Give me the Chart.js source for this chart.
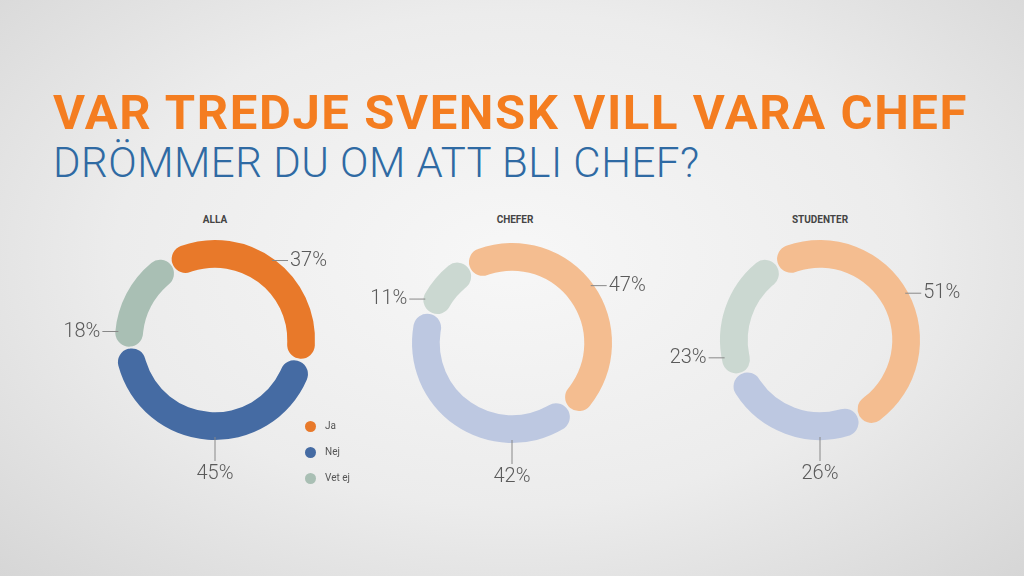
<!DOCTYPE html>
<html><head><meta charset="utf-8">
<script src="https://cdn.jsdelivr.net/npm/chart.js@4"></script>
<style>
html,body{margin:0;width:1024px;height:576px;overflow:hidden;font-family:Roboto,sans-serif}
body{background:radial-gradient(ellipse at 50% 45%,#f7f7f7 0%,#ececec 55%,#d6d6d6 100%)}
#t1{position:absolute;left:53px;top:84px;font-size:49px;font-weight:700;color:#f47d20;letter-spacing:1.6px;white-space:nowrap}
#t2{position:absolute;left:53px;top:138px;font-size:42px;font-weight:300;color:#2f6aa3;letter-spacing:0.5px;white-space:nowrap}
.st{position:absolute;font-size:10px;font-weight:700;color:#444;width:200px;text-align:center;top:214px}
canvas{position:absolute}
.lg{position:absolute;left:305px;font-size:10px;color:#555}
.lg span{display:inline-block;width:11px;height:11px;border-radius:50%;vertical-align:middle;margin-right:9px}
</style></head><body>
<div id="t1">VAR TREDJE SVENSK VILL VARA CHEF</div>
<div id="t2">DRÖMMER DU OM ATT BLI CHEF?</div>
<div class="st" style="left:115px">ALLA</div>
<div class="st" style="left:415px">CHEFER</div>
<div class="st" style="left:720px">STUDENTER</div>
<canvas id="c0" width="320" height="300" style="left:55px;top:190px"></canvas>
<canvas id="c1" width="320" height="300" style="left:352px;top:193px"></canvas>
<canvas id="c2" width="320" height="300" style="left:660px;top:190px"></canvas>
<div class="lg" style="top:420px"><span style="background:#e8792a"></span>Ja</div>
<div class="lg" style="top:446px"><span style="background:#456ba3"></span>Nej</div>
<div class="lg" style="top:472px"><span style="background:#a9bfb4"></span>Vet ej</div>
<script>
const categories=["Ja","Nej","Vet ej"];
const alla=[37,45,18];
const chefer=[47,42,11];
const studenter=[51,26,23];
const colorsDark=["#e8792a","#456ba3","#a9bfb4"];
const colorsLight=["#f4bd90","#bdc8e1","#cbd8d1"];
const labelPlugin={id:"lbl",afterDraw(ch){
  const c=ch.ctx;const meta=ch.getDatasetMeta(0);
  c.save();c.font="300 20px Roboto";c.fillStyle="#5a5a5a";c.strokeStyle="#888";c.lineWidth=1;
  meta.data.forEach((a,i)=>{
    const r=a.outerRadius,cx=a.x,cy=a.y;
    const t=ch.data.datasets[0].data[i]+"%";
    c.beginPath();
    if(i===1){
      const py=cy+r;c.moveTo(cx,py-2);c.lineTo(cx,py+22);c.stroke();
      c.textAlign="center";c.textBaseline="top";c.fillText(t,cx,py+25);
    }else{
      const ang=i===0?(a.startAngle+a.endAngle)/2:a.startAngle+0.15*(a.endAngle-a.startAngle);
      const px=cx+Math.cos(ang)*r,py=cy+Math.sin(ang)*r;const s=i===0?1:-1;
      const x2=px+s*14;c.moveTo(px-s*2,py);c.lineTo(x2,py);c.stroke();
      c.textAlign=s>0?"left":"right";c.textBaseline="middle";c.fillText(t,x2+s*2,py);
    }
  });c.restore();}};
function make(id,data,cols){
  new Chart(document.getElementById(id),{type:"doughnut",
   data:{labels:categories,datasets:[{data:data,backgroundColor:cols,borderWidth:0,borderRadius:14,spacing:2}]},
   options:{responsive:false,animation:false,cutout:"72%",rotation:-30,
     layout:{padding:{left:60,right:60,top:50,bottom:50}},
     plugins:{legend:{display:false},tooltip:{enabled:false}}},plugins:[labelPlugin]});
}
make("c0",alla,colorsDark);
make("c1",chefer,colorsLight);
make("c2",studenter,colorsLight);
</script></body></html>
